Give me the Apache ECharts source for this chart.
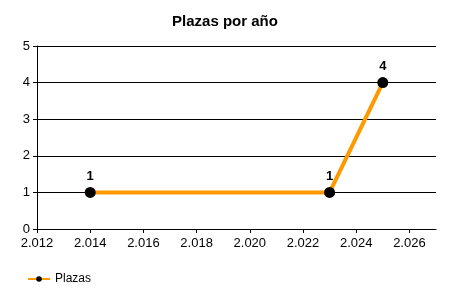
<!DOCTYPE html>
<html><head><meta charset="utf-8">
<script src="https://cdn.jsdelivr.net/npm/echarts@6/dist/echarts.min.js"></script>
<style>html,body{margin:0;padding:0;background:#fff}#c{width:450px;height:300px}</style>
</head><body><div id="c"></div>
<script>
const years = [2014, 2023, 2025];
const plazas = [1, 1, 4];
const seriesName = 'Plazas';
const titleText = 'Plazas por año';

const fmt = v => {
  const s = String(Math.round(v));
  return s.length > 3 ? s.slice(0, s.length - 3) + '.' + s.slice(-3) : s;
};
const font = 'Liberation Sans, Arial, sans-serif';
const chart = echarts.init(document.getElementById('c'), null, {renderer: 'canvas'});
chart.setOption({
  animation: false,
  backgroundColor: '#fff',
  title: {text: titleText, left: 'center', top: 9,
    textStyle: {fontFamily: font, fontSize: 15, fontWeight: 'bold', color: '#000'}},
  grid: {left: 37, right: 14, top: 46, bottom: 71, containLabel: false},
  legend: {left: 22, top: 268, itemWidth: 22, itemHeight: 7, itemGap: 4,
    textStyle: {fontFamily: font, fontSize: 12, color: '#000'},
    data: [{name: seriesName}]},
  xAxis: {type: 'value', min: 2012, max: 2027, interval: 2,
    axisLine: {onZero: false, lineStyle: {color: '#000', width: 1}},
    axisTick: {show: true, length: 4, inside: false, lineStyle: {color: '#000'}},
    axisLabel: {formatter: fmt, fontFamily: font, fontSize: 13, color: '#000', margin: 8, showMaxLabel: false},
    splitLine: {show: false}},
  yAxis: {type: 'value', min: 0, max: 5, interval: 1,
    axisLine: {show: true, lineStyle: {color: '#000', width: 1}},
    axisTick: {show: true, length: 4, lineStyle: {color: '#000'}},
    axisLabel: {fontFamily: font, fontSize: 13, color: '#000', margin: 7},
    splitLine: {show: true, lineStyle: {color: '#000', width: 1}}},
  series: [{
    name: seriesName, type: 'line',
    data: years.map((y, i) => [y, plazas[i]]),
    symbol: 'circle', symbolSize: 11,
    itemStyle: {color: '#000'},
    lineStyle: {color: '#FF9900', width: 4},
    label: {show: true, position: 'top', distance: 4, fontFamily: font, fontSize: 13, fontWeight: 'bold', color: '#000'},
    z: 3
  }]
});
</script></body></html>
